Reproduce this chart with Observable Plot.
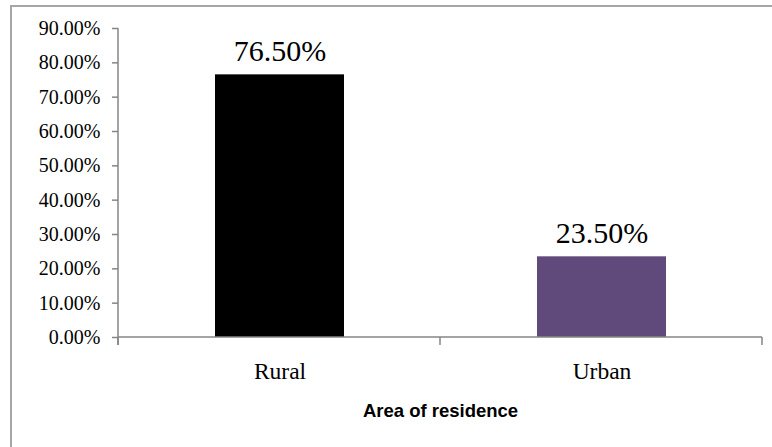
<!DOCTYPE html>
<html>
<head>
<meta charset="utf-8">
<script src="https://cdn.jsdelivr.net/npm/d3@7"></script>
<script src="https://cdn.jsdelivr.net/npm/@observablehq/plot@0.6"></script>
<style>
  html, body { margin: 0; padding: 0; background: #fff; }
  #wrap { position: relative; width: 772px; height: 447px; overflow: hidden; }
  #border { position: absolute; left: 10px; top: 5px; width: 800px; height: 500px;
            border-left: 2px solid #a6a6a6; border-top: 2px solid #a6a6a6; box-sizing: border-box; pointer-events: none; }
</style>
</head>
<body>
<div id="wrap"><div id="border"></div></div>
<script>
const categories = ["Rural", "Urban"];
const values = [0.765, 0.235];
const valueLabels = ["76.50%", "23.50%"];
const barColors = ["#000000", "#604a7b"];
const yTicks = [0, 0.1, 0.2, 0.3, 0.4, 0.5, 0.6, 0.7, 0.8, 0.9];
const xTitle = "Area of residence";

const data = categories.map((c, i) => ({category: c, value: values[i], label: valueLabels[i], color: barColors[i]}));
const axisColor = "#868686";

function axisLines(index, scales, values, dim) {
  const g = d3.create("svg:g").attr("stroke", axisColor).attr("stroke-width", 1.5).attr("fill", "none");
  const y = scales.y, x = scales.x;
  const left = dim.marginLeft, right = dim.width - dim.marginRight;
  const y0 = y(0), yTop = y(0.9);
  g.append("line").attr("x1", left).attr("x2", left).attr("y1", yTop).attr("y2", y0 + 8);
  g.append("line").attr("x1", left).attr("x2", right).attr("y1", y0).attr("y2", y0);
  const step = x.step();
  const bounds = [left, left + step, left + 2 * step];
  bounds.forEach(b => g.append("line").attr("x1", b).attr("x2", b).attr("y1", y0).attr("y2", y0 + 8));
  return g.node();
}

const chart = Plot.plot({
  width: 772,
  height: 447,
  marginLeft: 118,
  marginRight: 10,
  marginTop: 28,
  marginBottom: 110,
  style: {fontFamily: "'Liberation Serif', 'Times New Roman', serif", background: "transparent", color: "#000"},
  x: {domain: categories, paddingInner: 0.6, paddingOuter: 0.3, axis: null},
  y: {domain: [0, 0.9], axis: null},
  marks: [
    Plot.barY(data, {x: "category", y: "value", fill: "color"}),
    Plot.axisY({ticks: yTicks, tickFormat: d3.format(".2%"), tickSize: 6, tickPadding: 12, label: null,
      fontSize: 20, stroke: axisColor, fill: "#000", strokeWidth: 1.5}),
    Plot.axisX({tickSize: 0, tickPadding: 25, fontSize: 23.5, fill: "#000", label: null}),
    axisLines,
    Plot.text(data, {x: "category", y: "value", text: "label", lineAnchor: "bottom", dy: -14,
      fontSize: 30, fill: "#000"}),
    Plot.text([xTitle], {frameAnchor: "bottom", dy: 74, lineAnchor: "middle", fontSize: 18.5,
      fontWeight: "bold", fontFamily: "'Liberation Sans', Arial, sans-serif", fill: "#000"})
  ]
});
document.getElementById("wrap").prepend(chart);
</script>
</body>
</html>
